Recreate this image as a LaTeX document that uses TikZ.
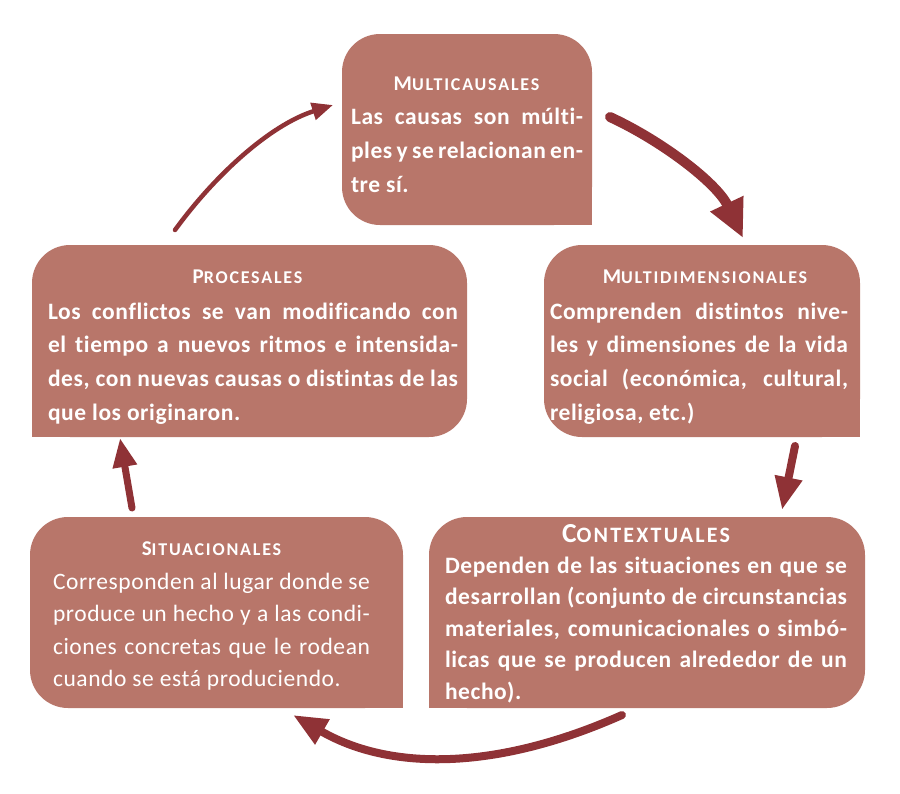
\documentclass[tikz,border=0pt]{standalone}
\usepackage{fontspec}
\setmainfont{Carlito}[LetterSpace=2.5, Ligatures={NoCommon}]
\usetikzlibrary{arrows.meta}
\definecolor{boxcol}{HTML}{B8766A}
\definecolor{arrcol}{HTML}{8F3236}
\newdimen\tw
\newcommand\jl[1]{\hbox to \tw{\spaceskip=.22em plus 1fil minus .09em\relax #1}}
\newcommand\lastl[1]{\hbox{#1}}
\newcommand\sct[4]{{\fontsize{#3}{#3}\selectfont #1}{\fontsize{#4}{#4}\selectfont\addfontfeature{LetterSpace=10}#2}}
\tikzset{
  box/.style={fill=boxcol, rounded corners=38pt, inner sep=0pt, outer sep=0pt},
  body/.style={text=white, inner sep=0pt, outer sep=0pt, anchor=base west},
  ttl/.style={text=white, inner sep=0pt, outer sep=0pt, anchor=base, font=\bfseries},
  arr/.style={draw=arrcol, line cap=round}
}
\begin{document}
\begin{tikzpicture}[x=1pt,y=-1pt]
\useasboundingbox (0,0) rectangle (900,793);
% boxes
\node[box, minimum width=250pt, minimum height=191pt] (mc) at (467,129.5) {};
\fill[boxcol] (mc.south east) rectangle ++(-40,-40);
\node[box, minimum width=316pt, minimum height=192pt] (md) at (702,341) {};
\fill[boxcol] (md.south east) rectangle ++(-40,-40);
\node[box, minimum width=435pt, minimum height=192pt] (pr) at (249.5,341) {};
\fill[boxcol] (pr.south west) rectangle ++(40,-40);
\node[box, minimum width=436pt, minimum height=191pt] (co) at (647,612.5) {};
\fill[boxcol] (co.south west) rectangle ++(40,-40);
\node[box, minimum width=373pt, minimum height=191pt] (si) at (216.5,612.5) {};
\fill[boxcol] (si.south east) rectangle ++(-40,-40);
% titles
\node[ttl] (mch) at (466.5,90) {\sct{M}{ULTICAUSALES}{21}{18}};
\node[ttl] (mdh) at (705,283) {\sct{M}{ULTIDIMENSIONALES}{21}{18}};
\node[ttl] (prh) at (247.5,283) {\sct{P}{ROCESALES}{21}{18}};
\node[ttl] (coh) at (646,542) {\sct{C}{ONTEXTUALES}{27.5}{22}};
\node[ttl] (sih) at (211.5,555) {\sct{S}{ITUACIONALES}{21}{18}};
% bodies
\node[body, font={\fontsize{23.5}{34}\selectfont\bfseries}] (mcb) at (351,124) {\vtop{\tw=232pt
\jl{Las causas son múlti-}
\jl{ples y se relacionan en-}
\lastl{tre sí.}}};
\node[body, font={\fontsize{23.5}{33.7}\selectfont\bfseries}] (mdb) at (550,319) {\vtop{\tw=298pt
\jl{Comprenden distintos nive-}
\jl{les y dimensiones de la vida}
\jl{social (económica, cultural,}
\lastl{religiosa, etc.)}}};
\node[body, font={\fontsize{23.5}{33.7}\selectfont\bfseries}] (prb) at (48,319) {\vtop{\tw=410pt
\jl{Los conflictos se van modificando con}
\jl{el tiempo a nuevos ritmos e intensida-}
\jl{des, con nuevas causas o distintas de las}
\lastl{que los originaron.}}};
\node[body, font={\fontsize{23.5}{31.5}\selectfont\bfseries}] (cob) at (445,573) {\vtop{\tw=402pt
\jl{Dependen de las situaciones en que se}
\jl{desarrollan (conjunto de circunstancias}
\jl{materiales, comunicacionales o simbó-}
\jl{licas que se producen alrededor de un}
\lastl{hecho).}}};
\node[body, font={\fontsize{23.5}{32.5}\selectfont}] (sib) at (53,589) {\vtop{\tw=317pt
\jl{Corresponden al lugar donde se}
\jl{produce un hecho y a las condi-}
\jl{ciones concretas que le rodean}
\lastl{cuando se está produciendo.}}};
% connectors
\coordinate (a1s) at (610,117);
\coordinate (a1e) at (743,238);
\coordinate (a2s) at (795,446);
\coordinate (a2e) at (782,510);
\coordinate (a3s) at (622,715);
\coordinate (a3e) at (293,715);
\coordinate (a4s) at (132,508);
\coordinate (a4e) at (120,438);
\coordinate (a5s) at (175,230);
\coordinate (a5e) at (333,105);
\draw[arr, line width=10pt, -{Triangle[length=38pt,width=34pt]}] (a1s) .. controls (662,141) and (717,183) .. (a1e);
\draw[arr, line width=8pt, -{Triangle[length=33pt,width=26pt]}] (a2s) -- (a2e);
\draw[arr, line width=8pt, -{Triangle[length=34pt,width=27pt]}] (a3s) .. controls (496,771) and (390,771) .. (a3e);
\draw[arr, line width=7pt, -{Triangle[length=29pt,width=23pt]}] (a4s) -- (a4e);
\draw[arr, line width=4.5pt, -{Triangle[length=21pt,width=17pt]}] (a5s) .. controls (215,175) and (270,125) .. (a5e);
\end{tikzpicture}
\end{document}
